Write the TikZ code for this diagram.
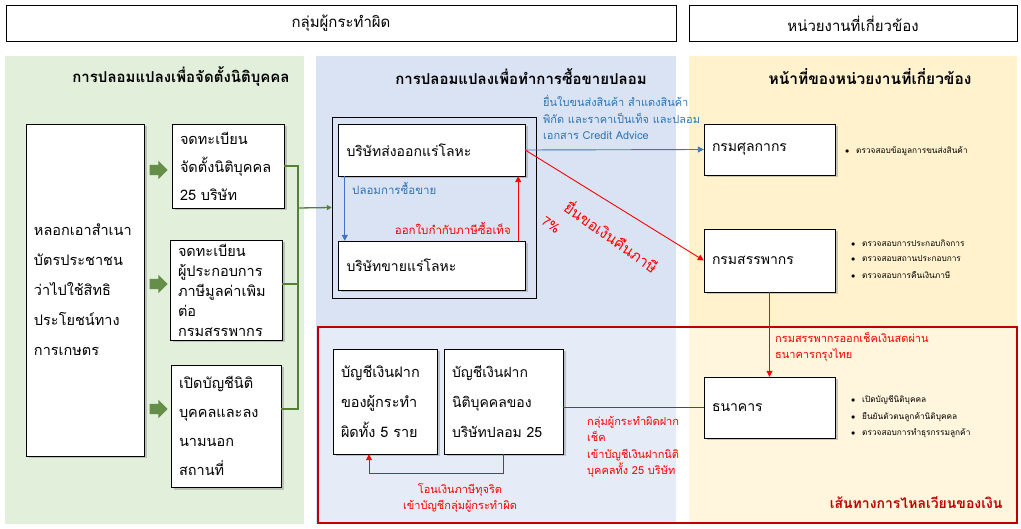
\documentclass[tikz,border=0pt]{standalone}
\usepackage{fontspec}
\setmainfont[Script=Thai]{Loma}
\usetikzlibrary{arrows.meta,positioning,shadows,shapes.arrows}
\definecolor{grnbg}{HTML}{E2EFDA}
\definecolor{blubg}{HTML}{DAE3F3}
\definecolor{ylwbg}{HTML}{FFF2CC}
\definecolor{darkred}{HTML}{C00000}
\definecolor{txtred}{HTML}{FF0000}
\definecolor{lnblue}{HTML}{4472C4}
\definecolor{txtblue}{HTML}{2E75B6}
\definecolor{lngreen}{HTML}{548235}
\newcommand{\blt}[1]{\makebox[11pt][l]{$\bullet$}#1}

\begin{document}
\begin{tikzpicture}[x=1pt, y=-1pt,
      hdr/.style={draw, thick, fill=white, minimum height=36pt,
                  font=\fontsize{15}{17}\selectfont},
      ttl/.style={font=\fontsize{15}{17}\selectfont\bfseries},
      box/.style={draw, fill=white, align=left, inner xsep=8pt, inner ysep=0pt,
                  drop shadow={opacity=0.4, shadow xshift=2.5pt, shadow yshift=-2.5pt}},
      cbox/.style={box, font=\fontsize{14}{16}\selectfont,
                   minimum width=187pt, text width=170pt},
      dbox/.style={box, font=\fontsize{14}{16}\selectfont,
                   minimum width=131pt, text width=115pt},
      garr/.style={single arrow, fill=lngreen!90!white, inner xsep=0pt, inner ysep=5pt,
                   single arrow head extend=4pt, minimum height=18pt},
      gline/.style={draw=lngreen, line width=1.3pt},
      barr/.style={-{Triangle[length=6pt,width=6pt]}, draw=lnblue, line width=0.9pt},
      rarr/.style={-{Triangle[length=6pt,width=6pt]}, draw=txtred, line width=0.9pt},
      blab/.style={text=txtblue, font=\fontsize{11}{16.5}\selectfont, align=left, inner sep=0pt},
      rlab/.style={text=txtred, font=\fontsize{11}{16.5}\selectfont, align=left, inner sep=0pt},
      bul/.style={font=\fontsize{8.3}{16}\selectfont, align=left, inner sep=0pt, anchor=west}
  ]
    \useasboundingbox[fill=white] (0,0) rectangle (1021,529);
    % panels
    \fill[grnbg] (5,56) rectangle (304,524);
    \fill[blubg] (316,56) rectangle (676,524);
    \fill[ylwbg] (689,56) rectangle (1017,524);
    \draw[darkred, line width=2.5pt, fill=white, fill opacity=0.35] (318,327) rectangle (1017,523);

    % headers
    \node[hdr, minimum width=670pt] (h1) at (341,23.5) {กลุ่มผู้กระทำผิด};
    \node[hdr, minimum width=328pt] (h2) at (853,23.5) {หน่วยงานที่เกี่ยวข้อง};
    \node[ttl] (t1) at (181,77) {การปลอมแปลงเพื่อจัดตั้งนิติบุคคล};
    \node[ttl] (t2) at (521,77) {การปลอมแปลงเพื่อทำการซื้อขายปลอม};
    \node[ttl, font=\fontsize{15.5}{17}\selectfont\bfseries] (t3) at (870,77) {หน้าที่ของหน่วยงานที่เกี่ยวข้อง};

    % left column
    \node[box, font=\fontsize{14.5}{30}\selectfont, minimum width=118pt, text width=102pt,
          minimum height=332pt] (src) at (85,290)
          {หลอกเอาสำเนา\\บัตรประชาชน\\ว่าไปใช้สิทธิ\\ประโยชน์ทาง\\การเกษตร};
    \node[box, font=\fontsize{14.5}{28}\selectfont, minimum width=112pt, text width=96pt,
          minimum height=84pt] (reg) at (228,166)
          {จดทะเบียน\\จัดตั้งนิติบุคคล\\25 บริษัท};
    \node[box, font=\fontsize{14.5}{20}\selectfont, minimum width=112pt, text width=96pt,
          minimum height=100pt] (vat) at (226,290)
          {จดทะเบียน\\ผู้ประกอบการ\\ภาษีมูลค่าเพิม\\ต่อ\\กรมสรรพากร};
    \node[box, font=\fontsize{14.5}{29}\selectfont, minimum width=110pt, text width=94pt,
          minimum height=122pt] (acc) at (226,426)
          {เปิดบัญชีนิติ\\บุคคลและลง\\นามนอก\\สถานที่};
    \node[garr] (ga1) at (156,170) {};
    \node[garr] (ga2) at (156,284) {};
    \node[garr] (ga3) at (156,409) {};

    % middle
    \node[draw, minimum width=204pt, minimum height=181pt] (grp) at (434,207.5) {};
    \node[cbox, minimum height=52pt] (exp) at (431.5,150) {บริษัทส่งออกแร่โลหะ};
    \node[cbox, minimum height=49pt] (sel) at (431.5,265.5) {บริษัทขายแร่โลหะ};
    \coordinate (jn) at (298,208);
    \draw[gline] (reg.east) -| (jn);
    \draw[gline] ([yshift=6pt]vat.east) -| (jn);
    \draw[gline] ([yshift=17pt]acc.east) -| (jn);
    \draw[gline, -{Triangle[length=5pt,width=5pt]}] (jn) -- (grp.west);

    \draw[barr] ([xshift=7pt]exp.south west) -- ([xshift=7pt]sel.north west);
    \node[blab, font=\fontsize{11.5}{15}\selectfont, anchor=west] (lb1) at (352,188) {ปลอมการซื้อขาย};
    \draw[rarr] ([xshift=-7pt]sel.north east) -- ([xshift=-7pt]exp.south east);
    \node[rlab, font=\fontsize{11.5}{15}\selectfont, anchor=east] (lb2) at (511,228) {ออกใบกำกับภาษีซื้อเท็จ};

    % right column
    \node[dbox, minimum height=51pt] (cus) at (769.5,149.5) {กรมศุลกากร};
    \node[dbox, minimum height=63pt] (rev) at (769.5,260.5) {กรมสรรพากร};
    \node[dbox, minimum height=61pt] (bnk) at (769.5,407.5) {ธนาคาร};
    \draw[barr] (exp.east) -- (cus.west);
    \node[blab, anchor=north west] (lb3) at (543,95)
          {ยื่นใบขนส่งสินค้า สำแดงสินค้า\\พิกัด และราคาเป็นเท็จ และปลอม\\เอกสาร Credit Advice};
    \draw[rarr] (exp.east) -- (rev.west);
    \node[text=txtred, font=\fontsize{15}{17}\selectfont, rotate=-35] (lb4) at (612,236)
          {ยื่นขอเงินคืนภาษี};
    \node[text=txtred, font=\fontsize{13}{15}\selectfont, rotate=-35] (lb5) at (551,225) {7\%};
    \draw[rarr] (rev.south) -- (bnk.north);
    \node[rlab, anchor=north west] (lb6) at (775,332)
          {กรมสรรพากรออกเช็คเงินสดผ่าน\\ธนาคารกรุงไทย};

    \node[bul] (bc1) at (845,151) {\blt{ตรวจสอบข้อมูลการขนส่งสินค้า}};
    \node[bul] (br1) at (851,243) {\blt{ตรวจสอบการประกอบกิจการ}};
    \node[bul] (br2) at (851,259) {\blt{ตรวจสอบสถานประกอบการ}};
    \node[bul] (br3) at (851,275) {\blt{ตรวจสอบการคืนเงินภาษี}};
    \node[bul] (bb1) at (851,400) {\blt{เปิดบัญชีนิติบุคคล}};
    \node[bul] (bb2) at (851,417) {\blt{ยืนยันตัวตนลูกค้านิติบุคคล}};
    \node[bul] (bb3) at (851,433) {\blt{ตรวจสอบการทำธุรกรรมลูกค้า}};

    % money flow
    \node[box, font=\fontsize{14.5}{30}\selectfont, minimum width=104pt, text width=88pt,
          minimum height=105pt] (own) at (385,401.5)
          {บัญชีเงินฝาก\\ของผู้กระทำ\\ผิดทั้ง 5 ราย};
    \node[box, font=\fontsize{14}{30}\selectfont, minimum width=119pt, text width=103pt,
          minimum height=105pt] (fake) at (503.5,401.5)
          {บัญชีเงินฝาก\\นิติบุคคลของ\\บริษัทปลอม 25};
    \draw[txtred, line width=0.9pt] (bnk.west) -- (bnk.west -| fake.east);
    \node[rlab, anchor=north west] (lb7) at (587,416)
          {กลุ่มผู้กระทำผิดฝาก\\เช็ค\\เข้าบัญชีเงินฝากนิติ\\บุคคลทั้ง 25 บริษัท};
    \draw[rarr] (fake.south) -- ++(0,19) -| ([xshift=-16pt]own.south);
    \node[rlab, align=center] (lb8) at (460,498)
          {โอนเงินภาษีทุจริต\\เข้าบัญชีกลุ่มผู้กระทำผิด};
    \node[text=darkred, font=\fontsize{14}{16}\selectfont\bfseries, anchor=east] (ttlm) at (1006,503)
          {เส้นทางการไหลเวียนของเงิน};
  \end{tikzpicture}
\end{document}
